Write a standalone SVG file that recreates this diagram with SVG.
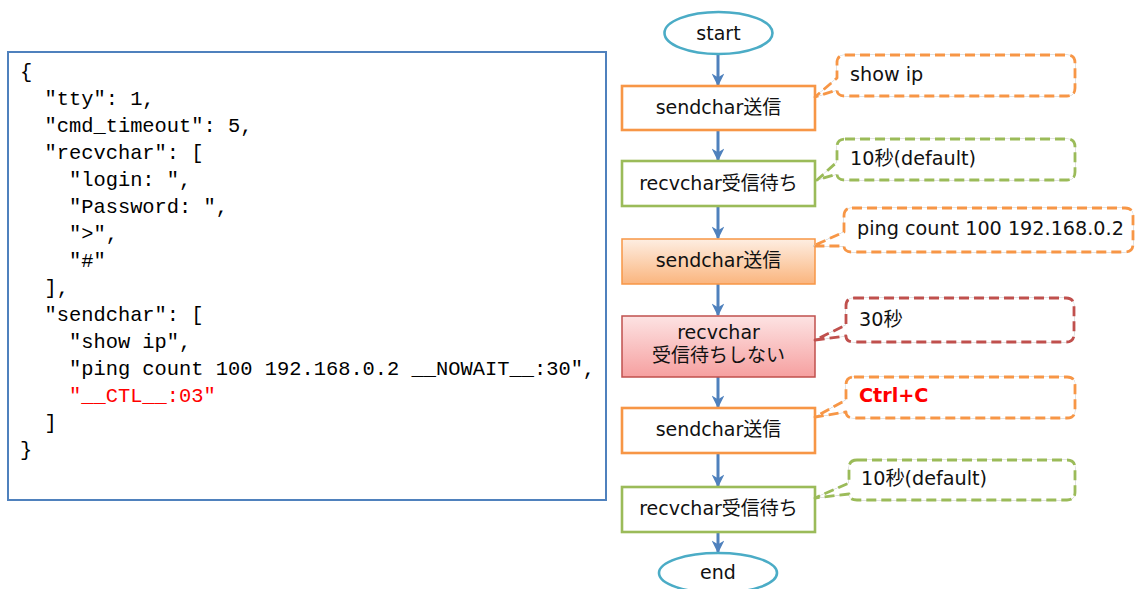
<svg xmlns="http://www.w3.org/2000/svg" width="1135" height="589" viewBox="0 0 1135 589">
<style>
.code{font-family:"Liberation Mono","DejaVu Sans Mono",monospace;font-size:20.4px;fill:#000;white-space:pre}
.t{font-family:"DejaVu Sans","Noto Sans CJK JP",sans-serif;font-size:19px;fill:#111}
.ct{font-family:"DejaVu Sans","Noto Sans CJK JP",sans-serif;font-size:19.2px;fill:#111}
.conn{stroke:#4F81BD;stroke-width:3;fill:none}
.co{fill:#fff;stroke-width:2.8;stroke-dasharray:10 5;stroke-linejoin:round}
.coshadow{fill:none;stroke:#c4c4c4;stroke-width:1}
</style>
<defs>
<marker id="ah" viewBox="0 0 10 10" refX="9" refY="5" markerWidth="4.3" markerHeight="4.3" orient="auto" markerUnits="strokeWidth">
<path d="M0,0 L10,5 L0,10 L3,5 Z" fill="#4F81BD"/>
</marker>
<linearGradient id="gOr" x1="0" y1="0" x2="0" y2="1">
<stop offset="0" stop-color="#FEEEE2"/>
<stop offset="1" stop-color="#FAB57E"/>
</linearGradient>
<linearGradient id="gRd" x1="0" y1="0" x2="0" y2="1">
<stop offset="0" stop-color="#FDE3E3"/>
<stop offset="1" stop-color="#F6A0A0"/>
</linearGradient>
</defs>

<g id="code">
<rect x="8" y="52" width="598" height="448" fill="#fff" stroke="#4F81BD" stroke-width="2"/>
<text class="code" x="20" y="78">{</text>
<text class="code" x="20" y="105">  "tty": 1,</text>
<text class="code" x="20" y="132">  "cmd_timeout": 5,</text>
<text class="code" x="20" y="159">  "recvchar": [</text>
<text class="code" x="20" y="186">    "login: ",</text>
<text class="code" x="20" y="213">    "Password: ",</text>
<text class="code" x="20" y="240">    "&gt;",</text>
<text class="code" x="20" y="267">    "#"</text>
<text class="code" x="20" y="294">  ],</text>
<text class="code" x="20" y="321">  "sendchar": [</text>
<text class="code" x="20" y="348">    "show ip",</text>
<text class="code" x="20" y="375">    "ping count 100 192.168.0.2 __NOWAIT__:30",</text>
<text class="code" x="20" y="402" style="fill:#FF0000">    "__CTL__:03"</text>
<text class="code" x="20" y="429">  ]</text>
<text class="code" x="20" y="456">}</text>
</g>

<g id="connectors">
<line class="conn" x1="718" y1="55" x2="718" y2="85" marker-end="url(#ah)"/>
<line class="conn" x1="718" y1="130" x2="718" y2="160" marker-end="url(#ah)"/>
<line class="conn" x1="718" y1="206" x2="718" y2="238" marker-end="url(#ah)"/>
<line class="conn" x1="718" y1="284" x2="718" y2="315" marker-end="url(#ah)"/>
<line class="conn" x1="718" y1="377" x2="718" y2="407" marker-end="url(#ah)"/>
<line class="conn" x1="718" y1="453" x2="718" y2="486" marker-end="url(#ah)"/>
<line class="conn" x1="718" y1="532" x2="718" y2="552" marker-end="url(#ah)"/>
</g>

<g id="start">
<ellipse cx="718.5" cy="33" rx="54" ry="21" fill="#fff" stroke="#4BACC6" stroke-width="2.6"/>
<text class="t" x="718.5" y="39.5" text-anchor="middle">start</text>
</g>
<g id="send1">
<rect x="622" y="86" width="193" height="44" fill="#fff" stroke="#F79646" stroke-width="2.6"/>
<text class="t" x="718.5" y="114" text-anchor="middle">sendchar送信</text>
</g>
<g id="recv1">
<rect x="622" y="161" width="193" height="45" fill="#fff" stroke="#9BBB59" stroke-width="2.6"/>
<text class="t" x="718.5" y="189.5" text-anchor="middle">recvchar受信待ち</text>
</g>
<g id="send2">
<rect x="622" y="239" width="193" height="45" fill="url(#gOr)" stroke="#F79646" stroke-width="1.5"/>
<text class="t" x="718.5" y="267" text-anchor="middle">sendchar送信</text>
</g>
<g id="recv2">
<rect x="622" y="316" width="193" height="61" fill="url(#gRd)" stroke="#C0504D" stroke-width="1.5"/>
<text class="t" x="718.5" y="339" text-anchor="middle">recvchar</text>
<text class="t" x="718.5" y="362" text-anchor="middle">受信待ちしない</text>
</g>
<g id="send3">
<rect x="622" y="408" width="193" height="45" fill="#fff" stroke="#F79646" stroke-width="2.6"/>
<text class="t" x="718.5" y="436" text-anchor="middle">sendchar送信</text>
</g>
<g id="recv3">
<rect x="622" y="487" width="193" height="45" fill="#fff" stroke="#9BBB59" stroke-width="2.6"/>
<text class="t" x="718.5" y="515" text-anchor="middle">recvchar受信待ち</text>
</g>
<g id="end">
<ellipse cx="718" cy="573" rx="59" ry="20" fill="#fff" stroke="#4BACC6" stroke-width="2.6"/>
<text class="t" x="718" y="579" text-anchor="middle">end</text>
</g>

<g id="note1">
<path class="coshadow" d="M845,55 H1067 Q1075,55 1075,63 V88 Q1075,96 1067,96 H845 Q837,96 837,90 L815,97 L837,78 V63 Q837,55 845,55 Z"/>
<path class="co" stroke="#F79646" d="M845,55 H1067 Q1075,55 1075,63 V88 Q1075,96 1067,96 H845 Q837,96 837,90 L815,97 L837,78 V63 Q837,55 845,55 Z"/>
<text class="ct" x="850" y="81">show ip</text>
</g>
<g id="note2">
<path class="coshadow" d="M845,139 H1067 Q1075,139 1075,147 V172 Q1075,180 1067,180 H845 Q837,180 837,174 L817,180 L837,162 V147 Q837,139 845,139 Z"/>
<path class="co" stroke="#9BBB59" d="M845,139 H1067 Q1075,139 1075,147 V172 Q1075,180 1067,180 H845 Q837,180 837,174 L817,180 L837,162 V147 Q837,139 845,139 Z"/>
<text class="ct" x="850" y="165">10秒(default)</text>
</g>
<g id="note3">
<path class="coshadow" d="M852,208 H1125 Q1133,208 1133,216 V244 Q1133,252 1125,252 H852 Q844,252 844,246 L813,246 L844,232 V216 Q844,208 852,208 Z"/>
<path class="co" stroke="#F79646" d="M852,208 H1125 Q1133,208 1133,216 V244 Q1133,252 1125,252 H852 Q844,252 844,246 L813,246 L844,232 V216 Q844,208 852,208 Z"/>
<text class="ct" x="857" y="235">ping count 100 192.168.0.2</text>
</g>
<g id="note4">
<path class="coshadow" d="M854,298 H1066 Q1074,298 1074,306 V334 Q1074,342 1066,342 H854 Q846,342 846,336 L815,340 L846,325 V306 Q846,298 854,298 Z"/>
<path class="co" stroke="#C0504D" d="M854,298 H1066 Q1074,298 1074,306 V334 Q1074,342 1066,342 H854 Q846,342 846,336 L815,340 L846,325 V306 Q846,298 854,298 Z"/>
<text class="ct" x="859" y="326">30秒</text>
</g>
<g id="note5">
<path class="coshadow" d="M854,377 H1067 Q1075,377 1075,385 V410 Q1075,418 1067,418 H854 Q846,418 846,412 L815,417 L846,400 V385 Q846,377 854,377 Z"/>
<path class="co" stroke="#F79646" d="M854,377 H1067 Q1075,377 1075,385 V410 Q1075,418 1067,418 H854 Q846,418 846,412 L815,417 L846,400 V385 Q846,377 854,377 Z"/>
<text class="ct" x="859" y="402" style="fill:#FF0000;font-weight:bold">Ctrl+C</text>
</g>
<g id="note6">
<path class="coshadow" d="M857,460 H1067 Q1075,460 1075,468 V492 Q1075,500 1067,500 H857 Q849,500 849,494 L815,498 L849,483 V468 Q849,460 857,460 Z"/>
<path class="co" stroke="#9BBB59" d="M857,460 H1067 Q1075,460 1075,468 V492 Q1075,500 1067,500 H857 Q849,500 849,494 L815,498 L849,483 V468 Q849,460 857,460 Z"/>
<text class="ct" x="861" y="485">10秒(default)</text>
</g>
</svg>
